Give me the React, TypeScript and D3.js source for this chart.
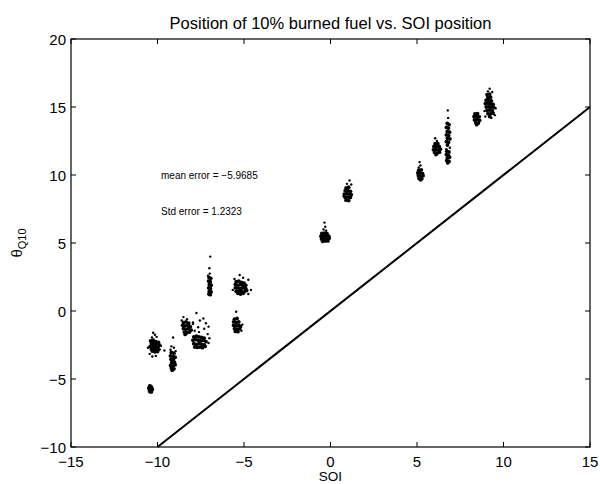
import React from "react";
import * as d3 from "d3";

// ---- data ----
const xTicks = [-15, -10, -5, 0, 5, 10, 15];
const yTicks = [-10, -5, 0, 5, 10, 15, 20];
const titleText = "Position of 10% burned fuel vs. SOI position";
const xLabelText = "SOI";
const meanErrorText = "mean error = \u22125.9685";
const stdErrorText = "Std error = 1.2323";
const refLine: [number, number][] = [[-10, -10], [15, 15]];

// dense cores of each SOI cluster
const corePoints: [number, number][] = [
  // SOI -10.4, -5.7
  [-10.45,-5.5],[-10.38,-5.55],[-10.5,-5.65],[-10.4,-5.7],[-10.33,-5.68],[-10.47,-5.8],[-10.39,-5.85],[-10.3,-5.78],[-10.44,-5.93],[-10.36,-5.95],
  // SOI -10.2, -2.6
  [-10.4,-2.2],[-10.25,-2.15],[-10.1,-2.25],[-9.95,-2.3],[-10.35,-2.4],[-10.2,-2.45],[-10.05,-2.4],[-9.9,-2.5],[-10.42,-2.6],[-10.28,-2.62],[-10.12,-2.58],[-9.98,-2.68],[-10.36,-2.8],[-10.2,-2.78],[-10.05,-2.85],[-9.92,-2.82],[-10.3,-2.95],[-10.15,-3.0],[-10.0,-2.98],[-10.22,-2.3],[-10.18,-2.9],
  // SOI -9.1, -3.8
  [-9.2,-3.05],[-9.05,-3.1],[-9.25,-3.3],[-9.1,-3.35],[-8.98,-3.4],[-9.22,-3.55],[-9.08,-3.6],[-9.18,-3.8],[-9.02,-3.78],[-9.24,-4.0],[-9.1,-4.05],[-8.98,-3.95],[-9.2,-4.2],[-9.05,-4.25],[-9.15,-4.35],
  // SOI -8.3, -1.1
  [-8.5,-0.85],[-8.35,-0.8],[-8.2,-0.9],[-8.55,-1.05],[-8.4,-1.1],[-8.25,-1.05],[-8.1,-1.15],[-8.5,-1.3],[-8.35,-1.35],[-8.2,-1.3],[-8.05,-1.4],[-8.45,-1.55],[-8.3,-1.6],[-8.15,-1.55],[-8.4,-1.72],
  // SOI -7.5, -2.3
  [-7.9,-1.9],[-7.75,-1.85],[-7.6,-1.9],[-7.45,-1.95],[-7.3,-2.0],[-7.95,-2.15],[-7.8,-2.1],[-7.65,-2.15],[-7.5,-2.2],[-7.35,-2.15],[-7.2,-2.25],[-7.9,-2.4],[-7.75,-2.45],[-7.6,-2.4],[-7.45,-2.45],[-7.3,-2.5],[-7.85,-2.65],[-7.7,-2.68],[-7.55,-2.65],[-7.4,-2.7],[-7.25,-2.6],
  // SOI -7.0, 1.8
  [-7.02,2.45],[-6.92,2.4],[-7.05,2.2],[-6.95,2.15],[-7.0,1.95],[-6.9,1.9],[-7.04,1.7],[-6.94,1.65],[-7.0,1.45],[-6.9,1.4],[-7.03,1.25],[-6.95,1.2],
  // SOI -5.2, 1.7
  [-5.45,2.15],[-5.3,2.2],[-5.15,2.1],[-5.0,2.05],[-5.5,1.95],[-5.35,1.9],[-5.2,1.95],[-5.05,1.85],[-4.9,1.9],[-5.5,1.7],[-5.35,1.7],[-5.2,1.65],[-5.05,1.7],[-4.9,1.65],[-5.45,1.45],[-5.3,1.5],[-5.15,1.45],[-5.0,1.4],[-4.85,1.5],[-5.35,1.3],[-5.2,1.25],[-5.05,1.3],
  // SOI -5.4, -1.0
  [-5.55,-0.6],[-5.4,-0.55],[-5.6,-0.8],[-5.45,-0.85],[-5.3,-0.8],[-5.6,-1.05],[-5.45,-1.1],[-5.3,-1.05],[-5.2,-1.15],[-5.55,-1.3],[-5.4,-1.35],[-5.25,-1.3],[-5.5,-1.5],[-5.35,-1.52],
  // SOI -0.3, 5.4
  [-0.5,5.7],[-0.35,5.72],[-0.2,5.68],[-0.55,5.5],[-0.4,5.5],[-0.25,5.52],[-0.1,5.5],[-0.52,5.3],[-0.38,5.32],[-0.22,5.3],[-0.08,5.35],[-0.45,5.12],[-0.3,5.15],[-0.15,5.15],
  // SOI 1.0, 8.6
  [0.9,9.05],[1.05,9.1],[0.85,8.85],[1.0,8.85],[1.15,8.8],[0.8,8.6],[0.95,8.62],[1.1,8.6],[1.2,8.55],[0.85,8.35],[1.0,8.38],[1.15,8.35],[0.9,8.15],[1.05,8.12],
  // SOI 5.2, 10.0
  [5.1,10.35],[5.25,10.38],[5.05,10.15],[5.2,10.15],[5.32,10.1],[5.08,9.95],[5.22,9.92],[5.35,9.95],[5.12,9.75],[5.28,9.72],[5.2,9.65],
  // SOI 6.1, 11.9
  [6.05,12.3],[6.2,12.3],[5.98,12.1],[6.12,12.08],[6.28,12.1],[5.95,11.85],[6.1,11.88],[6.25,11.82],[6.35,11.9],[6.02,11.65],[6.18,11.62],[6.3,11.68],[6.1,11.5],
  // SOI 6.8, 10.9 - 13.8
  [6.75,13.8],[6.85,13.7],[6.7,13.5],[6.82,13.45],[6.75,13.2],[6.88,13.15],[6.7,12.95],[6.83,12.9],[6.76,12.7],[6.9,12.65],[6.7,12.45],[6.82,12.4],[6.76,12.2],
  [6.72,11.75],[6.85,11.7],[6.7,11.5],[6.82,11.45],[6.75,11.25],[6.88,11.3],[6.72,11.05],[6.85,11.0],[6.78,10.9],
  // SOI 8.5, 14.1
  [8.35,14.5],[8.5,14.52],[8.3,14.3],[8.45,14.3],[8.6,14.28],[8.32,14.05],[8.48,14.08],[8.62,14.02],[8.4,13.85],[8.55,13.82],[8.45,13.7],
  // SOI 9.2, 15.1
  [9.05,15.9],[9.2,15.95],[9.1,15.7],[9.25,15.72],[9.0,15.5],[9.15,15.5],[9.3,15.45],[8.95,15.25],[9.1,15.28],[9.25,15.25],[9.4,15.2],[9.0,15.0],[9.15,15.02],[9.3,15.0],[9.45,14.95],[9.05,14.75],[9.2,14.78],[9.35,14.72],[9.1,14.52],[9.25,14.5],[9.4,14.55],[9.2,14.3],
];

// scattered individual points around the cores
const strayPoints: [number, number][] = [
  [-10.25,-1.6],[-10.15,-1.75],[-10.32,-1.95],[-10.05,-1.9],[-10.55,-2.7],[-9.8,-2.55],[-10.45,-3.15],[-10.1,-3.3],[-9.6,-2.9],[-10.3,-3.35],
  [-9.1,-1.95],[-9.2,-2.6],[-9.05,-2.7],[-9.25,-2.85],[-8.95,-2.95],
  [-8.5,-0.45],[-8.3,-0.6],[-8.6,-0.7],[-7.95,-0.95],
  [-7.75,-0.15],[-7.95,-0.85],[-7.55,-0.7],[-7.35,-0.55],[-7.2,-0.9],[-7.65,-1.2],[-7.85,-1.45],[-7.3,-1.3],[-7.05,-1.15],[-7.1,-1.7],[-7.0,-2.0],[-7.05,-2.35],[-7.6,-1.55],
  [-6.95,4.0],[-7.0,3.15],[-6.98,2.75],[-7.08,2.6],
  [-5.25,2.65],[-5.05,2.45],[-5.55,2.35],[-4.75,2.3],[-4.6,1.55],[-5.65,1.55],[-4.75,1.25],
  [-5.45,-0.05],[-5.15,-1.45],[-5.1,-1.0],
  [-0.35,6.5],[-0.3,6.2],[-0.4,6.0],[-0.25,5.9],
  [1.1,9.6],[0.95,9.35],[1.2,9.3],[0.75,8.45],
  [5.15,10.95],[5.2,10.7],[5.1,10.55],
  [6.05,12.7],[6.15,12.5],
  [6.78,14.75],[6.8,14.2],[6.9,12.0],[6.7,11.9],
  [9.2,16.35],[9.1,16.15],[9.35,16.1],[8.9,14.7],[9.55,14.9],[8.95,14.3],[9.5,14.4],[9.3,14.2],
];

const W = 600;
const H = 484;
const L = 71, R = 590, T = 39, B = 447;
const FONT = "'Liberation Sans', Arial, Helvetica, sans-serif";

export default function App() {
  const x = d3.scaleLinear().domain([-15, 15]).range([L, R]);
  const y = d3.scaleLinear().domain([-10, 20]).range([B, T]);
  const line = d3.line<[number, number]>().x(d => x(d[0])).y(d => y(d[1]));
  const tl = 5;
  const fmt = (t: number) => (t < 0 ? "\u2212" + Math.abs(t) : String(t));

  return (
    <svg width={W} height={H} style={{ position: "absolute", left: 0, top: 0, background: "#fff" }} fontFamily={FONT}>
      <rect x={0} y={0} width={W} height={H} fill="#fff" />
      {/* reference line */}
      <path d={line(refLine) || ""} stroke="#000" strokeWidth={2} fill="none" />
      {/* points */}
      {corePoints.map((p, i) => (
        <circle key={"c" + i} cx={x(p[0])} cy={y(p[1])} r={1.9} fill="#000" />
      ))}
      {strayPoints.map((p, i) => (
        <circle key={"s" + i} cx={x(p[0])} cy={y(p[1])} r={1.2} fill="#000" />
      ))}
      {/* axes box */}
      <rect x={L} y={T} width={R - L} height={B - T} fill="none" stroke="#000" strokeWidth={1.2} />
      {xTicks.map(t => (
        <g key={"xt" + t}>
          <line x1={x(t)} x2={x(t)} y1={B} y2={B - tl} stroke="#000" strokeWidth={1} />
          <line x1={x(t)} x2={x(t)} y1={T} y2={T + tl} stroke="#000" strokeWidth={1} />
          <text x={x(t)} y={466.5} textAnchor="middle" fontSize={15}>{fmt(t)}</text>
        </g>
      ))}
      {yTicks.map(t => (
        <g key={"yt" + t}>
          <line x1={L} x2={L + tl} y1={y(t)} y2={y(t)} stroke="#000" strokeWidth={1} />
          <line x1={R} x2={R - tl} y1={y(t)} y2={y(t)} stroke="#000" strokeWidth={1} />
          <text x={L - 5} y={y(t) + 5.5} textAnchor="end" fontSize={15}>{fmt(t)}</text>
        </g>
      ))}
      {/* title */}
      <text x={(L + R) / 2} y={29} textAnchor="middle" fontSize={16.5}>{titleText}</text>
      {/* x label */}
      <text x={(L + R) / 2} y={481} textAnchor="middle" fontSize={13.5}>{xLabelText}</text>
      {/* y label */}
      <text transform={`translate(21.5,${(T + B) / 2}) rotate(-90)`} textAnchor="middle" fontSize={15}>
        {"\u03B8"}
        <tspan fontSize={11} dy={4}>Q10</tspan>
      </text>
      {/* annotations */}
      <text x={161} y={179} fontSize={10}>{meanErrorText}</text>
      <text x={161} y={215} fontSize={10}>{stdErrorText}</text>
    </svg>
  );
}
